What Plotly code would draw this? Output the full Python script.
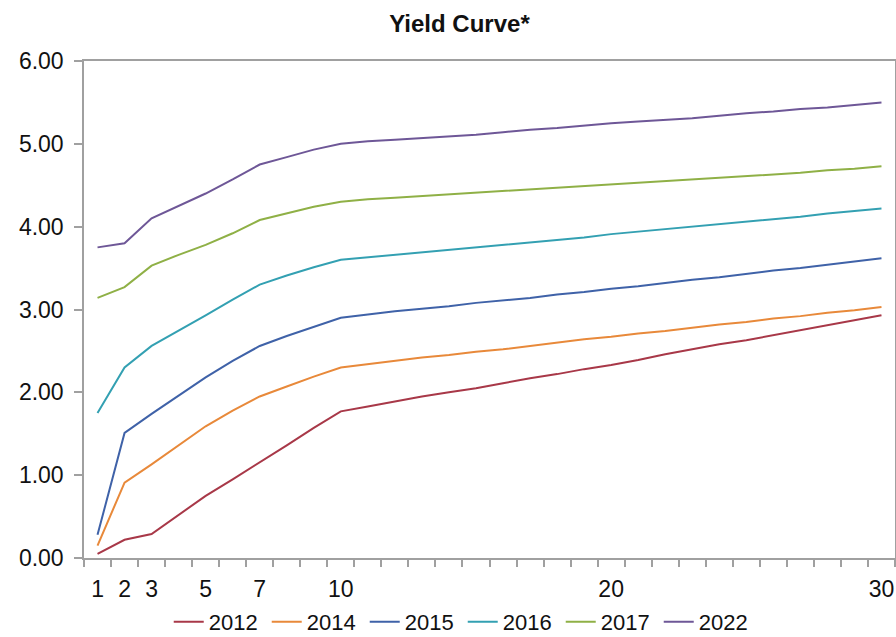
import plotly.graph_objects as go

# Maturity buckets (years) along the category axis
maturities = list(range(1, 31))
tick_years = [1, 2, 3, 5, 7, 10, 20, 30]

y2012 = [0.05, 0.22, 0.29, 0.52, 0.75, 0.95, 1.15, 1.36, 1.57, 1.77,
         1.83, 1.89, 1.95, 2.00, 2.05, 2.11, 2.17, 2.22, 2.28, 2.33,
         2.39, 2.46, 2.52, 2.58, 2.63, 2.69, 2.75, 2.81, 2.87, 2.93]
y2014 = [0.15, 0.91, 1.13, 1.36, 1.59, 1.78, 1.95, 2.07, 2.19, 2.30,
         2.34, 2.38, 2.42, 2.45, 2.49, 2.52, 2.56, 2.60, 2.64, 2.67,
         2.71, 2.74, 2.78, 2.82, 2.85, 2.89, 2.92, 2.96, 2.99, 3.03]
y2015 = [0.28, 1.51, 1.74, 1.96, 2.18, 2.38, 2.56, 2.68, 2.79, 2.90,
         2.94, 2.98, 3.01, 3.04, 3.08, 3.11, 3.14, 3.18, 3.21, 3.25,
         3.28, 3.32, 3.36, 3.39, 3.43, 3.47, 3.50, 3.54, 3.58, 3.62]
y2016 = [1.75, 2.30, 2.56, 2.74, 2.93, 3.12, 3.30, 3.41, 3.51, 3.60,
         3.63, 3.66, 3.69, 3.72, 3.75, 3.78, 3.81, 3.84, 3.87, 3.91,
         3.94, 3.97, 4.00, 4.03, 4.06, 4.09, 4.12, 4.16, 4.19, 4.22]
y2017 = [3.14, 3.27, 3.53, 3.66, 3.78, 3.92, 4.08, 4.16, 4.24, 4.30,
         4.33, 4.35, 4.37, 4.39, 4.41, 4.43, 4.45, 4.47, 4.49, 4.51,
         4.53, 4.55, 4.57, 4.59, 4.61, 4.63, 4.65, 4.68, 4.70, 4.73]
y2022 = [3.75, 3.80, 4.10, 4.25, 4.40, 4.57, 4.75, 4.84, 4.93, 5.00,
         5.03, 5.05, 5.07, 5.09, 5.11, 5.14, 5.17, 5.19, 5.22, 5.25,
         5.27, 5.29, 5.31, 5.34, 5.37, 5.39, 5.42, 5.44, 5.47, 5.50]

series = [
    ("2012", y2012, "#A83848"),
    ("2014", y2014, "#E8893A"),
    ("2015", y2015, "#3F62A8"),
    ("2016", y2016, "#33A0B2"),
    ("2017", y2017, "#8FB046"),
    ("2022", y2022, "#6E5797"),
]

FONT = "Arial, Liberation Sans, sans-serif"
AXIS_GRAY = "#A0A0A0"
X_RANGE = [0.5, 30.5]
boundaries = [m - 0.5 for m in maturities] + [maturities[-1] + 0.5]

fig = go.Figure()
for name, vals, color in series:
    fig.add_trace(go.Scatter(
        x=maturities, y=vals, mode="lines", name=name,
        line=dict(color=color, width=2),
    ))

# Empty trace that carries the overlay axis holding the maturity labels
fig.add_trace(go.Scatter(x=[None], y=[None], xaxis="x2", mode="lines",
                         showlegend=False, hoverinfo="skip"))

fig.update_layout(
    width=896, height=637,
    margin=dict(l=84, r=1, t=61, b=79, autoexpand=False),
    paper_bgcolor="white", plot_bgcolor="white",
    font=dict(family=FONT, size=23, color="#111111"),
    title=dict(text="<b>Yield Curve*</b>", x=0.463, xref="paper",
               y=1 - 24 / 637, yref="container", xanchor="center", yanchor="middle",
               font=dict(family=FONT, size=24, color="#111111")),
    showlegend=True,
    legend=dict(orientation="h", x=0.467, xanchor="center",
                y=1 - 622 / 637, yref="container", yanchor="middle",
                font=dict(family=FONT, size=22), entrywidth=53, entrywidthmode="pixels",
                itemwidth=30, bgcolor="rgba(0,0,0,0)"),
    # Main x axis: frame line and tick marks on category boundaries
    xaxis=dict(range=X_RANGE, tickmode="array", tickvals=boundaries,
               ticktext=[""] * len(boundaries), ticks="outside", ticklen=7,
               tickcolor=AXIS_GRAY, tickwidth=1.5, showgrid=False, zeroline=False,
               showline=True, linecolor=AXIS_GRAY, linewidth=1.5, mirror=True),
    # Overlay x axis: maturity labels centred on their categories
    xaxis2=dict(overlaying="x", side="bottom", anchor="y", range=X_RANGE,
                tickmode="array", tickvals=tick_years,
                ticktext=[str(t) for t in tick_years], ticks="outside", ticklen=7,
                tickcolor="rgba(0,0,0,0)", ticklabelstandoff=3,
                tickfont=dict(family=FONT, size=23, color="#111111"),
                showgrid=False, zeroline=False, showline=False),
    yaxis=dict(range=[0, 6], dtick=1, tickformat=".2f", ticks="outside", ticklen=8,
               tickcolor=AXIS_GRAY, tickwidth=1.5, showgrid=False, zeroline=False,
               showline=True, linecolor=AXIS_GRAY, linewidth=1.5, mirror=True,
               ticklabelstandoff=6),
)

fig.write_html("out.html")
